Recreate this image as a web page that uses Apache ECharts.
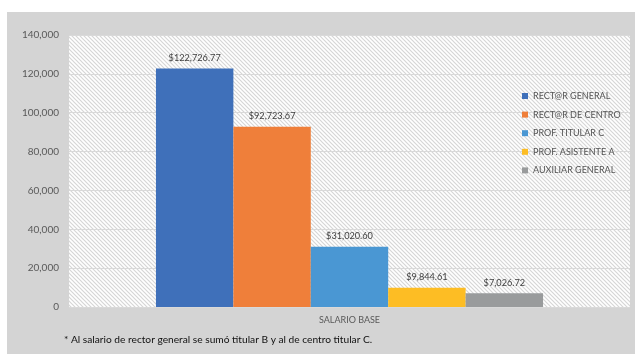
<!DOCTYPE html>
<html><head><meta charset="utf-8">
<script src="https://cdn.jsdelivr.net/npm/echarts@6/dist/echarts.min.js"></script>
<style>html,body{margin:0;padding:0;background:#fff}#c{width:635px;height:354px}</style>
</head><body><div id="c"></div>
<script>
const categories = ['SALARIO BASE'];
const seriesNames = ['RECT@R GENERAL','RECT@R DE CENTRO','PROF. TITULAR C','PROF. ASISTENTE A','AUXILIAR GENERAL'];
const seriesValues = [122726.77, 92723.67, 31020.60, 9844.61, 7026.72];
const colors = ['#3f70ba','#ef7f3a','#4a97d3','#fdbd24','#999b9c'];
const yTicks = [0,20000,40000,60000,80000,100000,120000,140000];
const footnote = '* Al salario de rector general se sumó titular B y al de centro titular C.';

// hatch pattern
const pc = document.createElement('canvas');
pc.width = 4; pc.height = 4;
const px = pc.getContext('2d');
px.fillStyle = '#ffffff'; px.fillRect(0,0,4,4);
px.strokeStyle = '#d6d6d6'; px.lineWidth = 1.2;
px.beginPath(); px.moveTo(-1,-1); px.lineTo(5,5); px.stroke();
px.beginPath(); px.moveTo(-1,3); px.lineTo(1,5); px.stroke();
px.beginPath(); px.moveTo(3,-1); px.lineTo(5,1); px.stroke();

const chart = echarts.init(document.getElementById('c'));
const fmt = v => '$' + v.toLocaleString('en-US',{minimumFractionDigits:2,maximumFractionDigits:2});
chart.setOption({
  animation:false,
  backgroundColor:'#ffffff',
  textStyle:{fontFamily:'Lato'},
  graphic:[
    {type:'rect', z:-10, shape:{x:7,y:12,width:628,height:342}, style:{fill:'#d4d4d4'}},
    {type:'text', left:64, top:335, style:{text:footnote, fill:'#111', font:'10.2px Lato'}}
  ],
  grid:{left:69,right:5,top:35,bottom:47,show:true,borderWidth:0,
        backgroundColor:{image:pc,repeat:'repeat'}},
  legend:{orient:'vertical',left:517,top:85,itemWidth:6,itemHeight:6,itemGap:6.6,
          icon:'rect',data:seriesNames,
          textStyle:{fontSize:9,color:'#555',lineHeight:12,fontFamily:'Lato'}},
  xAxis:{type:'category',data:categories,
         axisLine:{show:false},axisTick:{show:false},
         axisLabel:{color:'#595959',fontSize:9,margin:9}},
  yAxis:{type:'value',min:0,max:140000,interval:20000,
         axisLine:{show:false},axisTick:{show:false},
         splitLine:{lineStyle:{color:'#d9d9d9',width:1}},
         axisLabel:{color:'#595959',fontSize:10,margin:10,
           formatter:v=>v.toLocaleString('en-US')}},
  series: seriesNames.map((n,i)=>({
    name:n,type:'bar',data:[seriesValues[i]],
    barGap:'0%',barCategoryGap:'31%',
    itemStyle:{color:colors[i]},
    label:{show:true,position:'top',distance:6,color:'#404040',fontSize:9.2,
           formatter:p=>fmt(p.value)}
  }))
});
</script></body></html>
